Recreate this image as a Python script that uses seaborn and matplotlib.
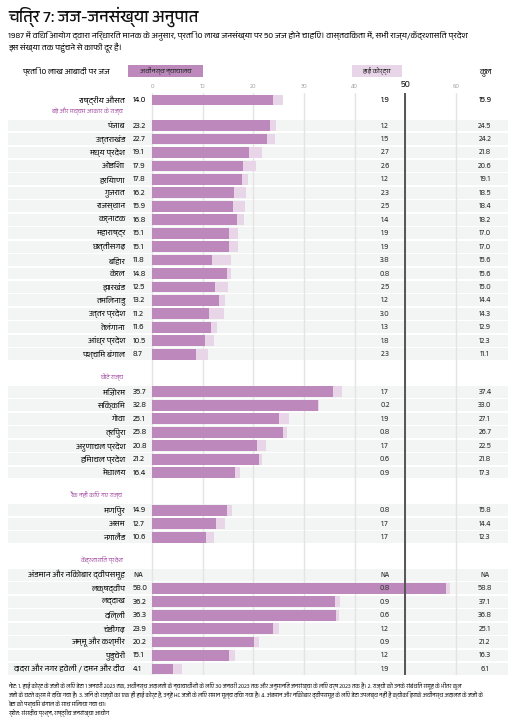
import numpy as np
import pandas as pd
import matplotlib
matplotlib.use('Agg')
import matplotlib.pyplot as plt
import seaborn as sns
from matplotlib import font_manager
from matplotlib.ft2font import FT2Font
from matplotlib.patches import Rectangle

# --- dados ---
big_states = ['पंजाब', 'उत्तराखंड', 'मध्य प्रदेश', 'ओडिशा', 'हरियाणा', 'गुजरात', 'राजस्थान',
              'कर्नाटक', 'महाराष्ट्र', 'छत्तीसगढ़', 'बिहार', 'केरल', 'झारखंड', 'तमिलनाडु',
              'उत्तर प्रदेश', 'तेलंगाना', 'आंध्र प्रदेश', 'पश्चिम बंगाल']
big_sub = [23.2, 22.7, 19.1, 17.9, 17.8, 16.2, 15.9, 16.8, 15.1, 15.1, 11.8, 14.8, 12.5, 13.2, 11.2, 11.6, 10.5, 8.7]
big_hc = [1.2, 1.5, 2.7, 2.6, 1.2, 2.3, 2.5, 1.4, 1.9, 1.9, 3.8, 0.8, 2.5, 1.2, 3.0, 1.3, 1.8, 2.3]
big_total = [24.5, 24.2, 21.8, 20.6, 19.1, 18.5, 18.4, 18.2, 17.0, 17.0, 15.6, 15.6, 15.0, 14.4, 14.3, 12.9, 12.3, 11.1]

small_states = ['मिज़ोरम', 'सिक्किम', 'गोवा', 'त्रिपुरा', 'अरुणाचल प्रदेश', 'हिमाचल प्रदेश', 'मेघालय']
small_sub = [35.7, 32.8, 25.1, 25.8, 20.8, 21.2, 16.4]
small_hc = [1.7, 0.2, 1.9, 0.8, 1.7, 0.6, 0.9]
small_total = [37.4, 33.0, 27.1, 26.7, 22.5, 21.8, 17.3]

unranked_states = ['मणिपुर', 'असम', 'नगालैंड']
unranked_sub = [14.9, 12.7, 10.6]
unranked_hc = [0.8, 1.7, 1.7]
unranked_total = [15.8, 14.4, 12.3]

ut_names = ['अंडमान और निकोबार द्वीपसमूह', 'लक्षद्वीप', 'लद्दाख', 'दिल्ली', 'चंडीगढ़',
            'जम्मू और कश्मीर', 'पुडुचेरी', 'दादरा और नगर हवेली / दमन और दीव']
ut_sub = [np.nan, 58.0, 36.2, 36.3, 23.9, 20.2, 15.1, 4.1]
ut_hc = [np.nan, 0.8, 0.9, 0.6, 1.2, 0.9, 1.2, 1.9]
ut_total = [np.nan, 58.8, 37.1, 36.8, 25.1, 21.2, 16.3, 6.1]

group_titles = ['बड़े और मध्यम आकार के राज्य', 'छोटे राज्य', 'रैंक नहीं किए गए राज्य', 'केंद्रशासित प्रदेश']

# राष्ट्रीय औसत: rótulos e barra como aparecem no original
nat_label = 'राष्ट्रीय औसत'
nat_sub, nat_hc, nat_total = 14.0, 1.9, 15.9
nat_bar_sub, nat_bar_hc = 23.9, 1.9

ticks = [0, 10, 20, 30, 40, 50, 60]

# --- fonte com devanágari, se houver ---
def achar_fonte_devanagari():
    achadas = []
    for f in font_manager.fontManager.ttflist:
        try:
            if 0x0915 in FT2Font(f.fname).get_charmap():
                achadas.append(f.name)
        except Exception:
            pass
    for nome in achadas:
        if 'Devanagari' in nome:
            return nome
    return achadas[0] if achadas else None

sns.set_style('white')
deva = achar_fonte_devanagari()
plt.rcParams['font.family'] = [deva, 'DejaVu Sans'] if deva else ['DejaVu Sans']

roxo = '#bd89bd'
roxo_claro = '#e8d5e8'
faixa = '#f3f4f4'

# --- montando a tabela de linhas ---
grupos = [
    (big_states, big_sub, big_hc, big_total),
    (small_states, small_sub, small_hc, small_total),
    (unranked_states, unranked_sub, unranked_hc, unranked_total),
    (ut_names, ut_sub, ut_hc, ut_total),
]
linhas = []
cabecalhos = []
pos = 0.0
for i, (nomes, sub, hc, tot) in enumerate(grupos):
    pos += 1.9 if i == 0 else 2.8
    cabecalhos.append((group_titles[i], pos - 1.1))
    for j in range(len(nomes)):
        linhas.append({'nome': nomes[j], 'y': pos, 'sub': sub[j], 'hc': hc[j], 'total': tot[j]})
        pos += 1
    pos -= 1
df = pd.DataFrame(linhas)

barras = df.dropna(subset=['sub']).copy()
barras['fim'] = barras['sub'] + barras['hc']
barras = pd.concat([pd.DataFrame([{'y': 0.0, 'sub': nat_bar_sub, 'fim': nat_bar_sub + nat_bar_hc}]),
                    barras[['y', 'sub', 'fim']]], ignore_index=True)

# --- figura ---
fig = plt.figure(figsize=(5.19, 7.2), dpi=100)
ax = fig.add_axes([8 / 519, 1 - 675 / 720, 500 / 519, 582 / 720])

for y in df['y']:
    ax.axhspan(y - 0.44, y + 0.44, color=faixa, lw=0, zorder=0.2)

sns.barplot(data=barras, x='fim', y='y', orient='y', native_scale=True, color=roxo_claro,
            saturation=1, width=0.8, errorbar=None, linewidth=0, edgecolor='none', ax=ax)
sns.barplot(data=barras, x='sub', y='y', orient='y', native_scale=True, color=roxo,
            saturation=1, width=0.8, errorbar=None, linewidth=0, edgecolor='none', ax=ax)

ax.set_xlim(-28.42, 70.26)
ax.set_ylim(42.75, -0.52)
ax.set_xlabel('')
ax.set_ylabel('')
ax.set_yticks([])
ax.xaxis.tick_top()
ax.set_xticks(ticks, [str(t) for t in ticks])
ax.tick_params(axis='x', length=0, pad=3, labelsize=4.5, labelcolor='#b0b0b0')
for lbl in ax.get_xticklabels():
    if lbl.get_text() == '50':
        lbl.set_fontsize(6.5)
        lbl.set_fontweight('bold')
        lbl.set_color('#222222')
ax.grid(axis='x', color='#e4e4e4', lw=1)
ax.set_axisbelow(True)
ax.axvline(50, color='#555555', lw=1.4, zorder=3)
sns.despine(ax=ax, left=True, bottom=True, top=True, right=True)

def fmt(v):
    return 'NA' if pd.isna(v) else f'{v:.1f}'

# rótulos das linhas
for _, r in df.iterrows():
    ax.text(-5.3, r['y'], r['nome'], ha='right', va='center', fontsize=5.8, color='#222222')
    ax.text(-3.75, r['y'], fmt(r['sub']), ha='left', va='center', fontsize=5.8, color='#333333')
    ax.text(46.0, r['y'], fmt(r['hc']), ha='center', va='center', fontsize=5.5, color='#444444')
    ax.text(65.7, r['y'], fmt(r['total']), ha='center', va='center', fontsize=5.5, color='#444444')

ax.text(-5.3, 0, nat_label, ha='right', va='center', fontsize=6.0, fontweight='bold', color='#222222')
ax.text(-3.75, 0, fmt(nat_sub), ha='left', va='center', fontsize=5.8, fontweight='bold', color='#222222')
ax.text(46.0, 0, fmt(nat_hc), ha='center', va='center', fontsize=5.8, fontweight='bold', color='#222222')
ax.text(65.7, 0, fmt(nat_total), ha='center', va='center', fontsize=5.8, fontweight='bold', color='#222222')

for titulo, y in cabecalhos:
    ax.text(-5.7, y, titulo, ha='right', va='center', fontsize=4.5, color='#b06ab0')

# título e subtítulo
fig.text(8 / 519, 1 - 17 / 720, 'चित्र 7: जज-जनसंख्या अनुपात', fontsize=12, fontweight='bold',
         va='center', color='#111111')
fig.text(8 / 519, 1 - 35 / 720,
         '1987 में विधि आयोग द्वारा निर्धारित मानक के अनुसार, प्रति 10 लाख जनसंख्या पर 50 जज होने चाहिए। वास्तविकता में, सभी राज्य/केंद्रशासित प्रदेश',
         fontsize=6.0, va='center', color='#222222')
fig.text(8 / 519, 1 - 48 / 720, 'इस संख्या तक पहुंचने से काफी दूर हैं।',
         fontsize=6.0, va='center', color='#222222')

# legenda
fig.text(22 / 519, 1 - 71 / 720, 'प्रति 10 लाख आबादी पर जज', fontsize=5.8, fontweight='bold',
         va='center', color='#222222')
fig.add_artist(Rectangle((128 / 519, 1 - 77 / 720), 75 / 519, 12 / 720, transform=fig.transFigure,
                         color=roxo, lw=0))
fig.text(165.5 / 519, 1 - 71 / 720, 'अधीनस्थ न्यायालय', fontsize=4.8, ha='center', va='center',
         color='#333333')
fig.add_artist(Rectangle((352 / 519, 1 - 77 / 720), 50 / 519, 12 / 720, transform=fig.transFigure,
                         color=roxo_claro, lw=0))
fig.text(377 / 519, 1 - 71 / 720, 'हाई कोर्ट्स', fontsize=4.8, ha='center', va='center',
         color='#333333')
fig.text(485 / 519, 1 - 72 / 720, 'कुल', fontsize=5.8, fontweight='bold', ha='center', va='center',
         color='#222222')

# notas
notas = [
    'नोट: 1. हाई कोर्ट के जजों के लिए डेटा 1 जनवरी 2023 तक, अधीनस्थ अदालतों के न्यायाधीशों के लिए 30 जनवरी 2023 तक और अनुमानित जनसंख्या के लिए वर्ष 2023 तक है। 2. राज्यों को उनके संबंधित समूह के भीतर कुल',
    'जजों के घटते क्रम में दिया गया है। 3. जिन दो राज्यों का एक ही हाई कोर्ट है, उन्हें HC जजों के लिए समान मूल्य दिया गया है। 4. अंडमान और निकोबार द्वीपसमूह के लिए डेटा उपलब्ध नहीं है क्योंकि इसके अधीनस्थ अदालत के जजों के',
    'डेटा को पश्चिम बंगाल के साथ मिलाया गया था।',
    'स्रोत: संसदीय प्रश्न, राष्ट्रीय जनसंख्या आयोग',
]
for k, linha in enumerate(notas):
    fig.text(8 / 519, 1 - (686 + 9 * k) / 720, linha, fontsize=4.1, va='center', color='#333333')

fig.savefig('out.png', dpi=100)
